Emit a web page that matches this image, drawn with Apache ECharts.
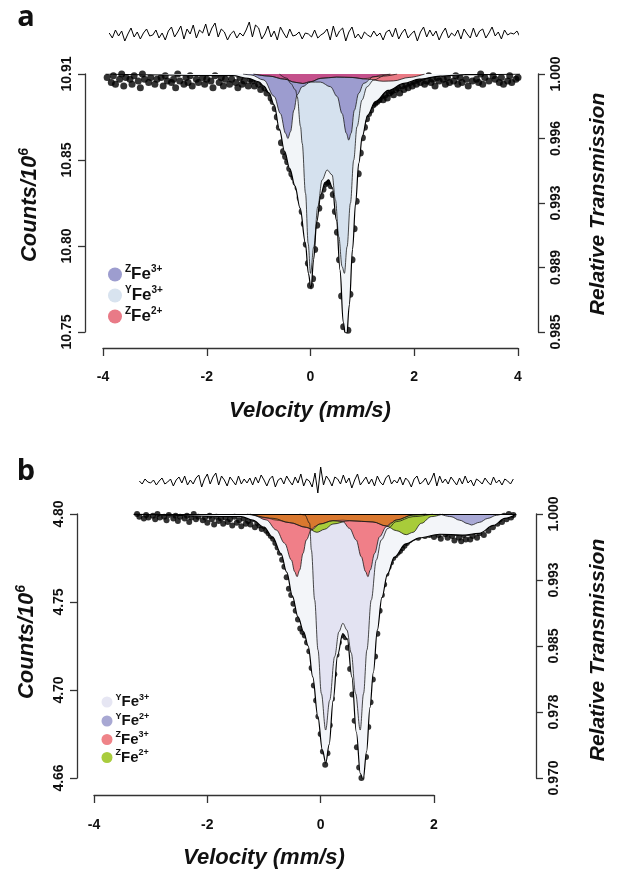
<!DOCTYPE html>
<html>
<head>
<meta charset="utf-8">
<script src="https://cdn.jsdelivr.net/npm/echarts@6/dist/echarts.min.js"></script>
<style>
    html, body { margin: 0; padding: 0; background: #fff; }
    #chart { width: 617px; height: 871px; }
</style>
</head>
<body>
<div id="chart"></div>
<script>
    var FONT = '"Liberation Sans", Arial, sans-serif';

    // ---------- panel a ----------
    var aCountTicks = ['10.75', '10.80', '10.85', '10.91'];
    var aTransTicks = ['0.985', '0.989', '0.993', '0.996', '1.000'];

    // measured points, absorption in % ((1 - T) * 100), one channel every 0.04 mm/s from -3.92
    var aPointStart = -3.92, aPointStep = 0.04;
    var aPoints = [
        0.02,-0.04,0.05,0.01,0.06,-0.03,0.03,0.00,0.07,0.02,   // -3.92
        -0.05,0.03,0.06,0.01,-0.03,0.04,0.08,0.00,0.03,-0.04,  // -3.52
        0.05,0.02,-0.02,0.06,0.03,-0.06,0.02,0.07,0.01,0.04,   // -3.12
        -0.03,0.05,0.03,0.08,0.00,0.04,-0.04,0.06,0.02,0.05,   // -2.72
        0.01,0.07,-0.03,0.03,0.05,-0.07,0.02,0.06,0.03,-0.01,  // -2.32
        0.04,0.08,0.01,-0.04,0.05,0.02,0.07,0.03,-0.02,0.06,   // -1.92
        0.03,-0.01,0.05,0.08,0.02,0.06,0.04,-0.03,0.07,0.03,   // -1.52
        0.04,0.07,0.03,0.06,0.09,0.05,0.08,0.11,0.09,0.14,     // -1.12
        0.16,0.20,0.25,0.31,0.40,0.45,0.48,0.51,0.55,0.58,     // -0.72
        0.60,0.63,0.66,0.72,0.80,0.87,0.99,1.10,1.23,1.19,     // -0.32
        1.02,0.88,0.78,0.71,0.67,0.64,0.63,0.62,0.65,0.70,     // 0.08
        0.80,0.92,1.08,1.29,1.47,1.56,1.49,1.28,1.08,0.90,     // 0.48
        0.74,0.58,0.46,0.37,0.31,0.26,0.23,0.21,0.18,0.17,     // 0.88
        0.16,0.15,0.13,0.15,0.12,0.14,0.11,0.10,0.12,0.09,     // 1.28
        0.08,0.11,0.07,0.09,0.06,0.08,0.05,0.07,0.04,0.06,     // 1.68
        0.03,0.05,0.02,0.06,0.04,0.01,0.05,0.03,0.07,0.02,     // 2.08
        0.04,-0.02,0.03,0.06,0.02,0.05,-0.04,0.04,0.01,0.06,   // 2.48
        0.02,0.05,-0.03,0.03,0.07,-0.06,0.04,-0.05,0.03,0.05,  // 2.88
        0.00,0.06,0.02,-0.04,0.04,-0.07,0.01,0.03,-0.03,0.05,  // 3.28
        0.02,0.06,-0.02,0.04,0.01,0.05,-0.05,0.03,0.02         // 3.68
    ];

    // residual strip above the plot, every 0.06 mm/s from -3.88
    var aResStart = -3.88, aResStep = 0.06;
    var aResidual = [
        2,-3,5,-1,4,-6,1,7,-2,3,
        -4,2,6,-1,0,5,-3,2,-5,4,
        8,-2,3,9,-4,6,1,10,-3,5,
        2,11,-1,7,12,-2,6,3,-5,1,
        4,-3,2,-1,5,13,-2,10,7,-4,
        1,9,-2,4,-5,8,2,-3,6,-1,
        0,3,-4,2,1,-2,5,-3,0,2,
        6,-5,9,-2,4,7,-6,3,8,-3,
        1,-4,3,0,-2,4,-1,2,-5,3,
        5,-2,7,-4,2,6,-3,1,4,-6,
        3,8,-2,5,-1,4,-5,2,7,-3,
        2,-1,5,-4,6,1,-3,7,-2,4,
        6,-3,2,8,-1,3,-4,5,0,2,
        1,4,-2
    ];

    // total fit
    var aFitV = [-3.95,-1.5,-1.2,-1.0,-0.9,-0.8,-0.7,-0.6,-0.5,-0.4,-0.3,-0.2,-0.1,-0.04,0.01,0.06,0.12,0.2,0.28,0.35,
                 0.42,0.5,0.57,0.63,0.69,0.75,0.81,0.87,0.93,1.0,1.1,1.25,1.5,1.8,2.1,2.5,3.0,4.05];
    var aFitDip = [0,0.01,0.025,0.045,0.07,0.11,0.18,0.32,0.45,0.55,0.65,0.78,0.98,1.16,1.25,1.08,0.86,0.7,0.63,0.615,
                   0.66,0.85,1.14,1.44,1.56,1.34,1.02,0.75,0.52,0.36,0.24,0.16,0.095,0.055,0.03,0.012,0.004,0];

    // YFe3+ doublet
    var aY3V = [-0.6,-0.45,-0.385,-0.288,-0.256,-0.192,-0.16,-0.096,-0.045,0,0.064,0.141,0.224,0.321,0.417,0.481,0.545,0.609,
                0.654,0.705,0.769,0.833,0.897,0.994,1.09,1.218,1.41,1.67];
    var aY3Dip = [0,0.025,0.054,0.093,0.132,0.306,0.403,0.694,0.985,1.159,1.004,0.771,0.616,0.558,0.587,0.733,0.946,1.12,
                  1.159,1.004,0.752,0.5,0.306,0.151,0.074,0.035,0.012,0];
    // ZFe3+ doublet
    var aZ3V = [-1.3,-1.15,-0.9,-0.7,-0.58,-0.48,-0.436,-0.385,-0.32,-0.256,-0.16,0,0.19,0.385,0.513,0.609,0.692,0.737,
                0.782,0.846,0.929,1.026,1.218,1.54];
    var aZ3Dip = [0,0.005,0.035,0.13,0.23,0.345,0.375,0.335,0.21,0.12,0.074,0.047,0.047,0.074,0.13,0.23,0.345,0.384,
                  0.345,0.21,0.112,0.054,0.016,0];
    // ZFe2+ doublet, and the part of it lying over ZFe3+
    var aZ2V = [-1.1,-0.8,-0.5,-0.3,-0.15,0,0.2,0.5,0.8,1.1,1.4,1.6,1.9,2.2];
    var aZ2Dip = [0,0.012,0.03,0.048,0.055,0.045,0.025,0.018,0.02,0.03,0.042,0.04,0.02,0];
    var aZ2OverV = [-1.1,-0.8,-0.5,-0.3,-0.15,0,0.2,0.5,0.8,1.0,1.1,1.22,1.4,1.54];
    var aZ2OverDip = [0,0.012,0.03,0.048,0.055,0.045,0.025,0.018,0.02,0.028,0.025,0.016,0.003,0];

    // ---------- panel b ----------
    var bCountTicks = ['4.66', '4.70', '4.75', '4.80'];
    var bTransTicks = ['0.970', '0.978', '0.985', '0.993', '1.000'];

    var bPointStart = -3.24, bPointStep = 0.04;
    var bPoints = [
        0.00,0.03,-0.02,0.05,0.01,0.04,-0.03,0.02,0.06,0.00,   // -3.24
        0.04,-0.02,0.03,0.07,0.01,-0.04,0.05,0.02,0.08,0.03,   // -2.84
        -0.01,0.05,0.02,0.09,0.04,0.00,0.06,0.03,-0.02,0.07,   // -2.44
        0.04,0.10,0.02,0.06,0.12,0.03,0.08,0.05,0.11,0.04,     // -2.04
        0.09,0.06,0.13,0.03,0.10,0.07,0.14,0.05,0.11,0.08,     // -1.64
        0.12,0.06,0.15,0.10,0.13,0.17,0.14,0.19,0.22,0.25,     // -1.24
        0.28,0.33,0.38,0.44,0.52,0.60,0.72,0.85,0.92,1.02,     // -0.84
        1.10,1.20,1.30,1.34,1.38,1.46,1.56,1.75,1.95,2.12,     // -0.44
        2.30,2.50,2.70,2.85,2.72,2.40,2.10,1.82,1.60,1.46,     // -0.04
        1.38,1.34,1.40,1.52,1.76,2.05,2.35,2.65,2.88,3.00,     // 0.36
        3.04,2.76,2.42,2.14,1.88,1.62,1.36,1.10,0.92,0.80,     // 0.76
        0.68,0.60,0.55,0.50,0.47,0.44,0.42,0.39,0.36,0.33,     // 1.16
        0.30,0.28,0.27,0.25,0.27,0.23,0.22,0.25,0.21,0.24,     // 1.56
        0.20,0.26,0.19,0.24,0.28,0.17,0.23,0.27,0.20,0.25,     // 1.96
        0.30,0.22,0.27,0.31,0.24,0.29,0.22,0.29,0.25,0.20,     // 2.36
        0.27,0.22,0.16,0.24,0.13,0.19,0.10,0.15,0.08,0.11,     // 2.76
        0.06,0.09,0.02,0.06,0.00,0.04,0.01                     // 3.16
    ];

    var bResStart = -3.2, bResStep = 0.05;
    var bResidual = [
        1,-2,3,0,-1,2,-3,1,4,-2,
        0,3,-4,2,5,-1,6,-3,2,-2,
        4,7,-5,3,8,-2,5,9,-3,6,
        2,-4,5,1,-3,6,-2,3,-1,4,
        -3,5,-1,7,2,-4,3,6,-5,2,
        4,-2,6,1,-3,5,-1,8,-4,3,
        1,-5,9,-11,15,-3,6,2,-4,5,
        3,-2,7,-1,4,-6,2,8,-3,1,
        5,-2,3,-4,6,0,-3,4,7,-2,
        2,-1,5,-3,4,1,-5,3,6,-2,
        0,4,-3,2,9,-4,6,-1,3,-2,
        5,1,-3,4,-2,6,-1,2,-4,3,
        1,-2,4,0,-3,5,-1,2,-3,3,
        1,-2,3
    ];

    var bFitV = [-3.3,-1.4,-1.2,-1.0,-0.85,-0.7,-0.6,-0.5,-0.4,-0.3,-0.22,-0.14,-0.05,0.03,0.09,0.15,0.22,0.3,0.39,0.47,
                 0.55,0.63,0.7,0.75,0.81,0.87,0.93,1.0,1.08,1.18,1.3,1.5,1.75,2.1,2.5,2.8,3.05,3.25,3.45];
    var bFitDip = [0,0.03,0.07,0.15,0.26,0.45,0.66,0.93,1.17,1.34,1.5,1.85,2.3,2.68,2.83,2.62,2.12,1.6,1.36,1.42,
                   1.85,2.48,2.95,3.02,2.7,2.2,1.8,1.32,0.95,0.68,0.49,0.34,0.27,0.23,0.24,0.22,0.13,0.05,0];

    // YFe3+ doublet
    var bY3V = [-0.37,-0.28,-0.194,-0.164,-0.106,-0.047,0.012,0.088,0.159,0.247,0.323,0.392,0.463,0.54,0.616,0.698,0.757,
                0.816,0.893,0.982,1.07,1.187,1.335,1.63,1.98];
    var bY3Dip = [0,0.011,0.106,0.409,0.977,1.545,2.04,2.455,2.117,1.62,1.337,1.242,1.318,1.58,2.04,2.455,2.04,
                  1.545,0.977,0.523,0.295,0.163,0.087,0.03,0];
    // ZFe2+ doublet
    var bZ2V = [-1.25,-0.841,-0.547,-0.253,-0.065,0.07,0.216,0.51,0.923,1.158,1.335,1.51,1.63,1.776,1.952,2.159];
    var bZ2Dip = [0,0.049,0.098,0.152,0.208,0.174,0.114,0.076,0.091,0.136,0.189,0.235,0.208,0.106,0.03,0];
    // ZFe3+ doublet
    var bZ3V = [-1.3,-1.193,-0.958,-0.782,-0.635,-0.517,-0.459,-0.417,-0.37,-0.312,-0.253,-0.165,-0.018,0.216,0.392,0.51,
                0.627,0.716,0.793,0.834,0.875,0.952,1.04,1.158,1.335,1.63,1.863];
    var bZ3Dip = [0,0.011,0.068,0.182,0.333,0.523,0.655,0.712,0.636,0.447,0.295,0.182,0.114,0.076,0.087,0.163,
                  0.295,0.485,0.655,0.712,0.636,0.447,0.258,0.144,0.068,0.011,0];
    // band where ZFe3+ and ZFe2+ overlap
    var bOverV = [-1.25,-0.96,-0.78,-0.55,-0.25,-0.165,-0.1,-0.018,0.216,0.392,0.51,0.923,1.158,1.25,1.335,1.63,1.86];
    var bOverDip = [0,0.045,0.07,0.098,0.152,0.17,0.14,0.114,0.076,0.07,0.076,0.09,0.136,0.1,0.068,0.011,0];
    // YFe2+ (only its right line shows)
    var bY2V = [2.1,2.3,2.45,2.6,2.66,2.8,2.95,3.1,3.2];
    var bY2Dip = [0,0.03,0.07,0.11,0.125,0.095,0.05,0.015,0];

    function pairs(xs, ys) {
        return xs.map(function (x, i) { return [x, ys[i]]; });
    }
    function channels(start, step, ys) {
        return ys.map(function (y, i) { return [Math.round((start + step * i) * 1000) / 1000, y]; });
    }

    function tickAxis(gridIndex, position, labels, offset, margin) {
        return {
            gridIndex: gridIndex, type: 'value', position: position, offset: offset,
            min: 0, max: labels.length - 1, interval: 1,
            axisLine: { show: true, onZero: false, lineStyle: { color: '#333', width: 1.3 } },
            axisTick: { show: true, length: 7, lineStyle: { color: '#333', width: 1.3 } },
            axisLabel: {
                show: true, rotate: 90, margin: margin, fontSize: 14, fontWeight: 'bold',
                color: '#111', fontFamily: FONT, showMinLabel: true, showMaxLabel: true,
                formatter: function (v) { return labels[Math.round(v)]; }
            },
            splitLine: { show: false }
        };
    }
    function velAxis(gridIndex, min, max, offset, margin) {
        return {
            gridIndex: gridIndex, type: 'value', position: 'bottom', offset: offset,
            min: min, max: max, interval: 2,
            axisLine: { show: true, onZero: false, lineStyle: { color: '#333', width: 1.3 } },
            axisTick: { show: true, length: 8, lineStyle: { color: '#333', width: 1.3 } },
            axisLabel: { margin: margin, fontSize: 14, fontWeight: 'bold', color: '#111', fontFamily: FONT,
                         showMinLabel: true, showMaxLabel: true },
            splitLine: { show: false }
        };
    }
    function hiddenAxis(gridIndex, min, max, inverse) {
        return { gridIndex: gridIndex, type: 'value', min: min, max: max, inverse: !!inverse, show: false,
                 axisLine: { onZero: false }, splitLine: { show: false } };
    }
    function area(xi, yi, data, color, lineWidth) {
        return {
            type: 'line', xAxisIndex: xi, yAxisIndex: yi, data: data,
            smooth: 0.35, smoothMonotone: 'x', symbol: 'none', silent: true,
            lineStyle: { color: '#1a1a1a', width: lineWidth },
            areaStyle: { color: color, opacity: 1, origin: 0 }
        };
    }
    function fitLine(xi, yi, data, first, last) {
        return {
            type: 'line', xAxisIndex: xi, yAxisIndex: yi, data: data,
            smooth: 0.35, smoothMonotone: 'x', symbol: 'none', silent: true,
            lineStyle: { color: '#000', width: 1.2 },
            markLine: {
                silent: true, symbol: 'none', label: { show: false },
                lineStyle: { color: '#000', width: 1, type: 'solid' },
                data: [[{ coord: [first, 0] }, { coord: [last, 0] }]]
            }
        };
    }
    function dots(xi, yi, data, size) {
        return { type: 'scatter', xAxisIndex: xi, yAxisIndex: yi, data: data, symbolSize: size,
                 itemStyle: { color: '#000' }, silent: true };
    }
    function residual(xi, yi, data) {
        return { type: 'line', xAxisIndex: xi, yAxisIndex: yi, data: data, symbol: 'none', clip: false,
                 lineStyle: { color: '#000', width: 1 }, silent: true };
    }

    function richText(x, y, text, rich, align, rotation) {
        return {
            type: 'text', x: x, y: y, rotation: rotation || 0, silent: true,
            style: { text: text, rich: rich, align: align, verticalAlign: 'middle', fill: '#111' }
        };
    }
    function legendRich(size, sup) {
        return {
            m: { fontSize: size, fontWeight: 'bold', fontFamily: FONT, lineHeight: size + 3 },
            s: { fontSize: sup, fontWeight: 'bold', fontFamily: FONT, verticalAlign: 'top', lineHeight: sup + 2 }
        };
    }
    var titleRich = {
        m: { fontSize: 22, fontWeight: 'bold', fontStyle: 'italic', fontFamily: FONT, lineHeight: 25 },
        s: { fontSize: 14, fontWeight: 'bold', fontStyle: 'italic', fontFamily: FONT, verticalAlign: 'top', lineHeight: 14 }
    };
    var transRich = { m: { fontSize: 21, fontWeight: 'bold', fontStyle: 'italic', fontFamily: FONT } };

    function legendItem(cx, cy, r, color, pre, post, size, sup) {
        return [
            { type: 'circle', shape: { cx: cx, cy: cy, r: r }, style: { fill: color }, silent: true },
            richText(cx + r + 3, cy, '{s|' + pre + '}{m|Fe}{s|' + post + '}', legendRich(size, sup), 'left')
        ];
    }

    var chart = echarts.init(document.getElementById('chart'));

    var graphic = [
        { type: 'text', x: 26, y: 18, silent: true,
          style: { text: 'a', font: 'bold 29px "Open Sans", sans-serif', fill: '#111', align: 'center', verticalAlign: 'middle' } },
        { type: 'text', x: 26, y: 472, silent: true,
          style: { text: 'b', font: 'bold 29px "Open Sans", sans-serif', fill: '#111', align: 'center', verticalAlign: 'middle' } },
        richText(30, 205, '{m|Counts/10}{s|6}', titleRich, 'center', Math.PI / 2),
        richText(598, 204, '{m|Relative Transmission}', transRich, 'center', Math.PI / 2),
        richText(310, 411, '{m|Velocity (mm/s)}', titleRich, 'center'),
        richText(27, 642, '{m|Counts/10}{s|6}', titleRich, 'center', Math.PI / 2),
        richText(598, 650, '{m|Relative Transmission}', transRich, 'center', Math.PI / 2),
        richText(264, 858, '{m|Velocity (mm/s)}', titleRich, 'center')
    ]
    .concat(legendItem(115, 274.5, 7, '#9d9dcf', 'Z', '3+', 17, 10))
    .concat(legendItem(115, 295.5, 7, '#d8e3ef', 'Y', '3+', 17, 10))
    .concat(legendItem(115, 316.5, 7, '#e97a87', 'Z', '2+', 17, 10))
    .concat(legendItem(107, 702, 5.5, '#e6e6f3', 'Y', '3+', 15, 9))
    .concat(legendItem(107, 721, 5.5, '#a8a8d3', 'Y', '2+', 15, 9))
    .concat(legendItem(107, 739.5, 5.5, '#ef8388', 'Z', '3+', 15, 9))
    .concat(legendItem(107, 757.5, 5.5, '#a9cc3d', 'Z', '2+', 15, 9));

    var option = {
        animation: false,
        backgroundColor: '#fff',
        grid: [
            { left: 103, right: 99, top: 74, height: 258, outerBoundsMode: 'none' },   // a: plot
            { left: 103, right: 99, top: 20, height: 30, outerBoundsMode: 'none' },    // a: residual
            { left: 94, right: 81, top: 514, height: 264, outerBoundsMode: 'none' },   // b: plot
            { left: 94, width: 340, top: 514, height: 264, outerBoundsMode: 'none' },  // b: velocity axis
            { left: 94, right: 81, top: 467, height: 30, outerBoundsMode: 'none' }     // b: residual
        ],
        xAxis: [
            velAxis(0, -4, 4, 16, 22),
            hiddenAxis(1, -4, 4),
            hiddenAxis(2, -4, 3.8),
            velAxis(3, -4, 2, 17, 23),
            hiddenAxis(4, -4, 3.8)
        ],
        yAxis: [
            tickAxis(0, 'left', aCountTicks, 18, 11),
            tickAxis(0, 'right', aTransTicks, 20, 11),
            hiddenAxis(0, 0, 1.5, true),
            hiddenAxis(1, -15, 15),
            tickAxis(2, 'left', bCountTicks, 17, 11),
            tickAxis(2, 'right', bTransTicks, 0, 11),
            hiddenAxis(2, 0, 3, true),
            hiddenAxis(3, 0, 1),
            hiddenAxis(4, -15, 15)
        ],
        graphic: graphic,
        series: [
            // panel a
            residual(1, 3, channels(aResStart, aResStep, aResidual)),
            area(0, 2, pairs(aFitV, aFitDip), '#f2f5f8', 0),
            area(0, 2, pairs(aY3V, aY3Dip), '#d5e1ee', 0.8),
            area(0, 2, pairs(aZ3V, aZ3Dip), '#9c9ccf', 0.8),
            area(0, 2, pairs(aZ2V, aZ2Dip), '#ea7a85', 0.8),
            area(0, 2, pairs(aZ2OverV, aZ2OverDip), '#c4508b', 0.6),
            fitLine(0, 2, pairs(aFitV, aFitDip), aFitV[0], aFitV[aFitV.length - 1]),
            dots(0, 2, channels(aPointStart, aPointStep, aPoints), 7),
            // panel b
            residual(4, 8, channels(bResStart, bResStep, bResidual)),
            area(2, 6, pairs(bFitV, bFitDip), '#f3f5f9', 0),
            area(2, 6, pairs(bY3V, bY3Dip), '#e3e3f2', 0.8),
            area(2, 6, pairs(bZ2V, bZ2Dip), '#a8cc3a', 0.8),
            area(2, 6, pairs(bZ3V, bZ3Dip), '#f07f88', 0.8),
            area(2, 6, pairs(bOverV, bOverDip), '#d9782f', 0.6),
            area(2, 6, pairs(bY2V, bY2Dip), '#a9a9d6', 0.8),
            fitLine(2, 6, pairs(bFitV, bFitDip), bFitV[0], bFitV[bFitV.length - 1]),
            dots(2, 6, channels(bPointStart, bPointStep, bPoints), 6)
        ]
    };

    chart.setOption(option);
</script>
</body>
</html>
